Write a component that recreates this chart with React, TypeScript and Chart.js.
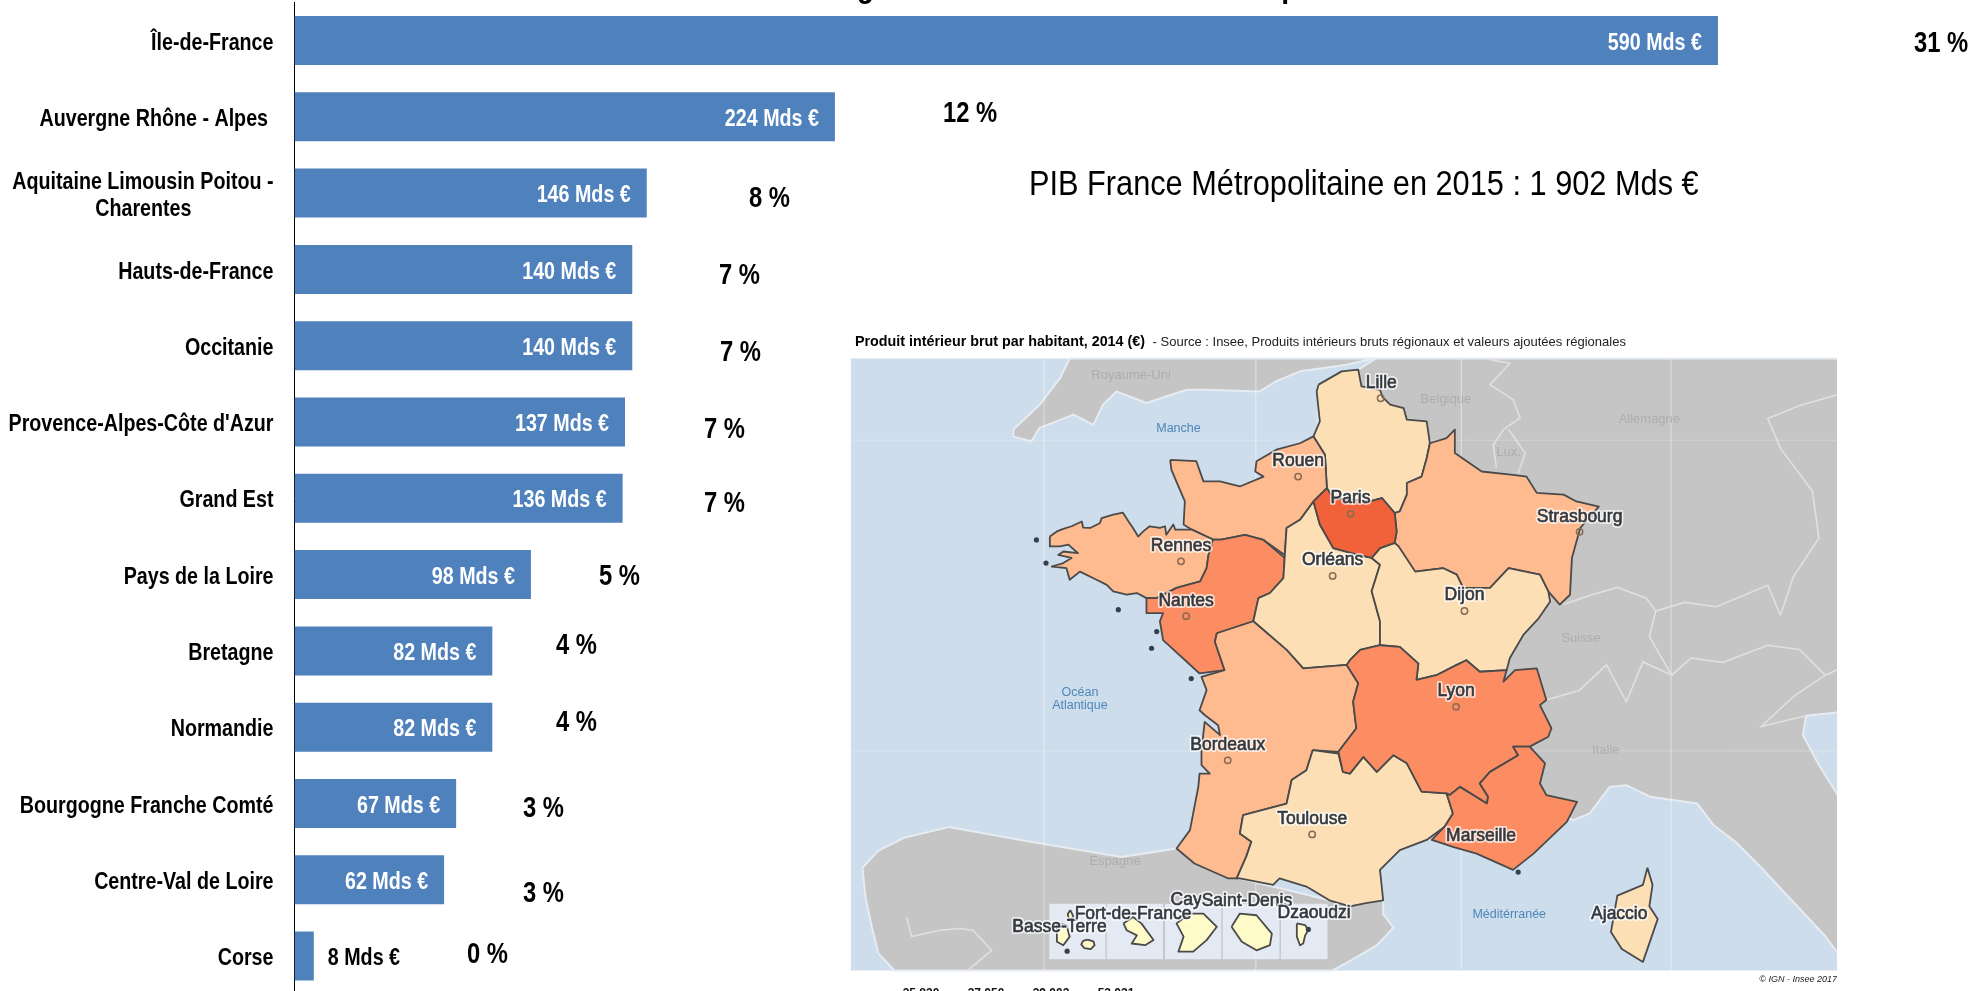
import React, { useEffect, useRef } from "react";
import { Chart, registerables } from "chart.js";

Chart.register(...registerables);

type Pt = [number, number];

/* ---------- bar chart data ---------- */
const regions: (string | string[])[] = [
  "Île-de-France",
  "Auvergne Rhône - Alpes ",
  ["Aquitaine Limousin Poitou -", "Charentes               "],
  "Hauts-de-France",
  "Occitanie",
  "Provence-Alpes-Côte d'Azur",
  "Grand Est",
  "Pays de la Loire",
  "Bretagne",
  "Normandie",
  "Bourgogne Franche Comté",
  "Centre-Val de Loire",
  "Corse",
];
const pibMds = [590, 224, 146, 140, 140, 137, 136, 98, 82, 82, 67, 62, 8];
const sharePct = [31, 12, 8, 7, 7, 7, 7, 5, 4, 4, 3, 3, 0];

const chartTitle = "Poids des régions dans le PIB France métropolitaine";
const pibNote = "PIB France Métropolitaine en 2015 : 1 902 Mds €";

/* hand-placed percentage labels: left edge and vertical centre on the page */
const shareLabelLeft = [1914, 943, 749, 719, 720, 704, 704, 599, 556, 556, 523, 523, 467];
const shareLabelMid = [44, 114, 199, 276, 353, 430, 504, 577, 646, 723, 809, 894, 955];

/* ---------- map data (map-chart units) ---------- */
const seaRect: Pt[] = [[17, 90], [1570, 90], [1570, 1520], [17, 1520], [17, 90]];
const ukLand: Pt[] = [[359, 90], [344, 136], [312, 198], [271, 256], [271, 272], [299, 284], [312, 252], [365, 221], [396, 245], [411, 198], [432, 167], [479, 194], [542, 163], [573, 163], [656, 167], [682, 143], [719, 120], [790, 105], [835, 90], [359, 90]];
const continentLand: Pt[] = [[838, 90], [1570, 90], [1570, 915], [1510, 925], [1505, 970], [1530, 1040], [1570, 1135], [1570, 1500], [1540, 1440], [1490, 1360], [1440, 1280], [1400, 1220], [1365, 1180], [1340, 1130], [1266, 1114], [1229, 1087], [1203, 1091], [1172, 1153], [1146, 1169], [900, 1000], [640, 1000], [700, 500], [745, 300], [748, 200], [745, 167], [810, 116], [838, 90]];
const iberiaLand: Pt[] = [[100, 1210], [60, 1240], [35, 1280], [40, 1350], [50, 1420], [60, 1480], [85, 1520], [770, 1520], [800, 1495], [840, 1460], [865, 1420], [850, 1390], [849, 1356], [820, 1363], [765, 1356], [625, 1305], [526, 1235], [440, 1255], [300, 1220], [170, 1185], [100, 1210]];

const borderBelgium: Pt[] = [[1016, 93], [1047, 101], [1016, 151], [1052, 186], [1063, 229], [1037, 256], [1021, 292], [1026, 346]];
const borderLux: Pt[] = [[1045, 256], [1071, 311], [1060, 358]];
const borderSwissNorth: Pt[] = [[1130, 665], [1180, 640], [1215, 625], [1260, 650], [1275, 680], [1320, 660], [1370, 670], [1450, 620], [1470, 690]];
const borderSwissSouth: Pt[] = [[1275, 680], [1265, 740], [1300, 830], [1330, 790], [1380, 800], [1450, 760], [1500, 770], [1540, 830], [1570, 810]];
const borderItaly: Pt[] = [[1104, 888], [1156, 865], [1198, 806], [1229, 892], [1255, 799], [1300, 830]];
const borderGermanyEast: Pt[] = [[1570, 170], [1500, 200], [1450, 230], [1470, 300], [1520, 400], [1530, 510], [1490, 600], [1470, 690]];
const borderSlovenia: Pt[] = [[1540, 830], [1490, 880], [1440, 950], [1510, 925]];
const borderPortugal: Pt[] = [[104, 1395], [112, 1441], [156, 1426], [188, 1422], [208, 1426], [237, 1473], [200, 1519]];

const graticuleH1: Pt[] = [[17, 281], [1570, 281]];
const graticuleH2: Pt[] = [[17, 1007], [1570, 1007]];
const graticuleV1: Pt[] = [[319, 90], [319, 1520]];
const graticuleV2: Pt[] = [[650, 90], [650, 1520]];
const graticuleV3: Pt[] = [[971, 90], [971, 1520]];
const graticuleV4: Pt[] = [[1299, 90], [1299, 1520]];

const hautsDeFrance: Pt[] = [[748, 151], [784, 120], [810, 116], [815, 155], [844, 163], [848, 180], [860, 198], [881, 206], [886, 233], [917, 237], [922, 288], [917, 323], [909, 366], [886, 381], [886, 408], [875, 447], [867, 451], [847, 416], [828, 424], [771, 416], [761, 393], [758, 315], [740, 272], [750, 237], [745, 167], [748, 151]];
const ileDeFrance: Pt[] = [[740, 424], [761, 393], [771, 416], [828, 424], [847, 416], [867, 451], [870, 494], [867, 521], [844, 533], [831, 556], [810, 549], [771, 533], [750, 478], [740, 424]];
const normandie: Pt[] = [[516, 327], [557, 330], [568, 377], [594, 377], [625, 389], [662, 366], [649, 354], [651, 330], [682, 303], [719, 288], [740, 272], [758, 315], [761, 393], [740, 424], [719, 467], [698, 486], [695, 549], [662, 514], [633, 502], [596, 513], [583, 513], [550, 490], [537, 478], [539, 424], [518, 350], [516, 327]];
const bretagne: Pt[] = [[328, 506], [339, 494], [349, 488], [362, 482], [378, 471], [380, 485], [391, 486], [406, 475], [409, 463], [427, 455], [442, 450], [451, 471], [458, 486], [466, 506], [474, 494], [484, 482], [500, 486], [508, 482], [510, 502], [521, 478], [524, 490], [550, 490], [583, 513], [576, 549], [573, 580], [563, 611], [526, 626], [495, 650], [479, 650], [464, 638], [448, 642], [427, 634], [417, 619], [401, 607], [375, 588], [359, 607], [354, 580], [331, 576], [349, 568], [362, 556], [341, 549], [349, 541], [372, 545], [357, 525], [344, 529], [328, 529], [328, 506]];
const paysDeLaLoire: Pt[] = [[583, 513], [596, 513], [633, 502], [662, 514], [695, 556], [693, 603], [672, 638], [654, 650], [646, 704], [589, 732], [586, 752], [601, 818], [562, 826], [505, 748], [500, 704], [505, 685], [479, 685], [479, 650], [495, 650], [526, 626], [563, 611], [573, 580], [576, 549], [583, 513]];
const centreVal: Pt[] = [[740, 424], [750, 478], [771, 533], [810, 549], [831, 556], [844, 572], [831, 634], [844, 704], [844, 760], [813, 771], [797, 795], [792, 806], [724, 814], [698, 771], [646, 704], [654, 650], [672, 638], [693, 603], [695, 556], [698, 486], [719, 467], [740, 424]];
const grandEst: Pt[] = [[922, 288], [948, 276], [961, 256], [961, 311], [1003, 354], [1052, 362], [1073, 366], [1089, 404], [1131, 408], [1151, 424], [1186, 436], [1157, 486], [1144, 556], [1141, 642], [1125, 665], [1107, 634], [1094, 595], [1045, 580], [1016, 626], [974, 626], [964, 595], [943, 580], [899, 588], [873, 529], [867, 521], [870, 494], [867, 451], [875, 447], [886, 408], [886, 381], [909, 366], [917, 323], [922, 288]];
const bourgogneFC: Pt[] = [[867, 521], [873, 529], [899, 588], [943, 580], [964, 595], [974, 626], [1016, 626], [1045, 580], [1094, 595], [1107, 634], [1110, 658], [1092, 697], [1068, 736], [1047, 790], [1042, 818], [1000, 822], [979, 795], [964, 806], [932, 830], [901, 841], [904, 803], [875, 764], [844, 760], [844, 704], [831, 634], [844, 572], [831, 556], [844, 533], [867, 521]];
const nouvelleAquitaine: Pt[] = [[589, 732], [646, 704], [698, 771], [724, 814], [792, 806], [810, 849], [802, 892], [807, 954], [779, 1009], [739, 1005], [729, 1052], [706, 1075], [698, 1130], [630, 1157], [625, 1200], [643, 1219], [635, 1254], [620, 1305], [607, 1305], [554, 1270], [526, 1235], [547, 1192], [560, 1091], [562, 1060], [578, 1060], [565, 1040], [565, 1005], [570, 939], [594, 970], [591, 947], [570, 923], [562, 912], [573, 865], [565, 834], [601, 818], [586, 752], [589, 732]];
const occitanie: Pt[] = [[739, 1005], [779, 1013], [786, 1056], [797, 1060], [818, 1021], [839, 1056], [865, 1017], [886, 1036], [909, 1102], [948, 1106], [958, 1153], [945, 1184], [917, 1215], [875, 1239], [844, 1285], [849, 1356], [820, 1363], [797, 1370], [765, 1356], [729, 1324], [687, 1305], [677, 1320], [625, 1305], [620, 1305], [635, 1254], [643, 1219], [625, 1200], [630, 1157], [698, 1130], [706, 1075], [729, 1052], [739, 1005]];
const auvergneRA: Pt[] = [[797, 795], [813, 771], [844, 760], [875, 764], [904, 803], [901, 841], [932, 830], [964, 806], [979, 795], [1000, 822], [1042, 818], [1037, 845], [1055, 818], [1089, 814], [1104, 888], [1094, 900], [1112, 954], [1107, 974], [1078, 997], [1052, 997], [1060, 1017], [1016, 1056], [1000, 1083], [1013, 1114], [1011, 1130], [969, 1091], [953, 1110], [948, 1106], [909, 1102], [886, 1036], [865, 1017], [839, 1056], [818, 1021], [797, 1060], [786, 1056], [779, 1009], [807, 954], [802, 892], [810, 849], [792, 806], [797, 795]];
const paca: Pt[] = [[1052, 997], [1078, 997], [1102, 1036], [1094, 1083], [1104, 1110], [1152, 1126], [1136, 1173], [1084, 1247], [1052, 1285], [995, 1247], [958, 1231], [925, 1215], [945, 1184], [958, 1153], [948, 1106], [953, 1110], [969, 1091], [1011, 1130], [1013, 1114], [1000, 1083], [1016, 1056], [1060, 1017], [1052, 997]];
const corse: Pt[] = [[1262, 1280], [1270, 1320], [1265, 1370], [1278, 1400], [1255, 1500], [1222, 1470], [1205, 1430], [1215, 1345], [1255, 1320], [1262, 1280]];

const domBox1: Pt[] = [[327, 1364], [415, 1364], [415, 1494], [327, 1494], [327, 1364]];
const domBox2: Pt[] = [[417, 1364], [505, 1364], [505, 1494], [417, 1494], [417, 1364]];
const domBox3: Pt[] = [[508, 1364], [596, 1364], [596, 1494], [508, 1494], [508, 1364]];
const domBox4: Pt[] = [[598, 1364], [687, 1364], [687, 1494], [598, 1494], [598, 1364]];
const domBox5: Pt[] = [[689, 1364], [762, 1364], [762, 1494], [689, 1494], [689, 1364]];

const guadeloupe: Pt[] = [[339, 1410], [354, 1414], [359, 1441], [349, 1461], [339, 1453], [339, 1410]];
const grandeTerre: Pt[] = [[360, 1379], [365, 1395], [358, 1402], [356, 1388], [360, 1379]];
const marieGalante: Pt[] = [[387, 1448], [396, 1452], [398, 1461], [392, 1470], [382, 1468], [377, 1459], [380, 1451], [387, 1448]];
const martinique: Pt[] = [[443, 1410], [458, 1395], [471, 1410], [490, 1449], [477, 1461], [456, 1457], [464, 1438], [448, 1426], [443, 1410]];
const guyane: Pt[] = [[547, 1387], [568, 1387], [589, 1418], [573, 1449], [552, 1476], [529, 1476], [537, 1441], [526, 1410], [547, 1387]];
const reunion: Pt[] = [[612, 1418], [625, 1387], [651, 1391], [675, 1434], [672, 1461], [651, 1473], [628, 1453], [612, 1418]];
const mayotte: Pt[] = [[714, 1410], [727, 1414], [732, 1426], [727, 1438], [724, 1457], [719, 1461], [714, 1441], [714, 1410]];

const coastIslets: Pt[] = [[307, 514], [322, 568], [435, 677], [495, 728], [487, 767], [549, 838], [355, 1475], [1060, 1290], [732, 1424]];
const cityPoints: Pt[] = [[845, 183], [716, 366], [798, 453], [1156, 495], [533, 564], [770, 598], [541, 692], [976, 680], [963, 904], [606, 1029], [738, 1202]];

const cityNames = ["Lille", "Rouen", "Paris", "Strasbourg", "Rennes", "Orléans", "Nantes", "Dijon", "Lyon", "Bordeaux", "Toulouse", "Marseille", "Ajaccio", "Basse-Terre", "Fort-de-France", "Cay", "Saint-Denis", "Dzaoudzi"];
const cityNameSpots: Pt[] = [[846, 147], [716, 329], [798, 417], [1156, 460], [533, 529], [770, 562], [541, 657], [976, 644], [963, 867], [606, 993], [738, 1166], [1002, 1206], [1218, 1389], [343, 1419], [458, 1389], [541, 1355], [636, 1358], [741, 1386]];
const countryNames = ["Royaume-Uni", "Belgique", "Allemagne", "Lux.", "Suisse", "Italie", "Espagne"];
const countrySpots: Pt[] = [[455, 130], [947, 185], [1265, 233], [1045, 310], [1158, 743], [1197, 1005], [430, 1266]];
const seaNames = ["Manche", "Océan", "Atlantique", "Méditérranée"];
const seaSpots: Pt[] = [[529, 254], [375, 871], [375, 901], [1046, 1390]];

const mapCaptionBold = "Produit intérieur brut par habitant, 2014 (€)";
const mapCaptionSource = " - Source : Insee, Produits intérieurs bruts régionaux et valeurs ajoutées régionales";
const mapCredit = "© IGN - Insee 2017";
const legendTicks = ["35 830", "37 050", "39 002", "53 021"];

/* ---------- styles ---------- */
const SANS = '"Liberation Sans", Arial, sans-serif';
const NARROW_X = 0.82; // Arial-Narrow look: no narrow face is installed, so text is condensed on the canvas
const BAR_BLUE = "#4F81BD";
const SEA = "#CDDDEC";
const LAND = "#C5C5C5";
const PALE = "#FDDFB5";
const MID = "#FDBB8F";
const STRONG = "#FC8D62";
const TOP = "#F1613A";
const ISLAND = "#FEFBC8";
const OUTLINE = "#4A4A4A";

const area = (pts: Pt[], fillColor: string, stroke = OUTLINE, width = 1.8) => ({
  data: pts.map(([x, y]) => ({ x, y })),
  showLine: true,
  fill: "shape",
  backgroundColor: fillColor,
  borderColor: stroke,
  borderWidth: width,
  borderJoinStyle: "round",
  pointRadius: 0,
  tension: 0,
});
const stroke = (pts: Pt[], color: string, width: number) => ({
  data: pts.map(([x, y]) => ({ x, y })),
  showLine: true,
  fill: false,
  borderColor: color,
  borderWidth: width,
  pointRadius: 0,
  tension: 0,
});

/* draws text squeezed horizontally about its anchor x */
const squeezed = (ctx: any, text: string, x: number, y: number, sx: number) => {
  ctx.save();
  ctx.translate(x, y);
  ctx.scale(sx, 1);
  ctx.fillText(text, 0, 0);
  ctx.restore();
};

const barOverlay = {
  id: "barOverlay",
  afterLayout(chart: any) {
    /* the axis keeps drawing its own tick labels, only condensed about their right edge */
    const s = chart.scales.y;
    if (s.__condensed) return;
    s.__condensed = true;
    const draw = s.drawLabels.bind(s);
    s._computeLabelArea = () => undefined;
    s.drawLabels = (a: any) => {
      const c = s.ctx;
      c.save();
      const ax = 273.5;
      c.translate(ax, 2.5);
      c.scale(NARROW_X, 1);
      c.translate(-ax, 0);
      draw(a);
      c.restore();
    };
  },
  afterDatasetsDraw(chart: any) {
    const ctx = chart.ctx;
    const bars = chart.getDatasetMeta(0).data;
    ctx.save();
    ctx.textBaseline = "middle";
    ctx.font = `bold 24px ${SANS}`;
    bars.forEach((bar: any, i: number) => {
      const label = `${pibMds[i]} Mds €`;
      if (bar.x - bar.base > 120) {
        ctx.fillStyle = "#FFFFFF";
        ctx.textAlign = "right";
        squeezed(ctx, label, bar.x - 16, bar.y + 2.5, NARROW_X);
      } else {
        ctx.fillStyle = "#000000";
        ctx.textAlign = "left";
        squeezed(ctx, label, bar.x + 14, bar.y + 2.5, NARROW_X);
      }
    });
    ctx.fillStyle = "#000000";
    ctx.textAlign = "left";
    ctx.font = `bold 29px ${SANS}`;
    sharePct.forEach((p, i) => squeezed(ctx, `${p} %`, shareLabelLeft[i], shareLabelMid[i], NARROW_X));
    ctx.font = `35px ${SANS}`;
    squeezed(ctx, pibNote, 1029, 185, 0.878);
    ctx.font = `bold 34px ${SANS}`;
    ctx.textBaseline = "alphabetic";
    squeezed(ctx, chartTitle, 688, -3, 0.835);
    ctx.restore();
  },
};

const mapOverlay = {
  id: "mapOverlay",
  afterDatasetsDraw(chart: any) {
    const ctx = chart.ctx;
    const sx = chart.scales.x;
    const sy = chart.scales.y;
    const put = (t: string, p: Pt) => ctx.fillText(t, sx.getPixelForValue(p[0]), sy.getPixelForValue(p[1]));
    ctx.save();
    ctx.textAlign = "center";
    ctx.textBaseline = "middle";
    ctx.font = `13px ${SANS}`;
    ctx.fillStyle = "#ADADAD";
    countryNames.forEach((n, i) => put(n, countrySpots[i]));
    ctx.font = `12.5px ${SANS}`;
    ctx.fillStyle = "#4F86B8";
    seaNames.forEach((n, i) => put(n, seaSpots[i]));
    ctx.font = `17.5px ${SANS}`;
    ctx.lineJoin = "round";
    cityNames.forEach((n, i) => {
      const p = cityNameSpots[i];
      const px = sx.getPixelForValue(p[0]);
      const py = sy.getPixelForValue(p[1]);
      ctx.strokeStyle = "rgba(255,255,255,0.7)";
      ctx.lineWidth = 4;
      ctx.strokeText(n, px, py);
      ctx.strokeStyle = "#33383F";
      ctx.lineWidth = 0.6;
      ctx.strokeText(n, px, py);
      ctx.fillStyle = "#33383F";
      ctx.fillText(n, px, py);
    });
    ctx.textAlign = "left";
    ctx.fillStyle = "#000000";
    ctx.font = `bold 14.3px ${SANS}`;
    ctx.fillText(mapCaptionBold, 15, 22);
    const w = ctx.measureText(mapCaptionBold).width;
    ctx.font = `13px ${SANS}`;
    ctx.fillStyle = "#222222";
    ctx.fillText(mapCaptionSource, 15 + w + 4, 22);
    ctx.font = `italic 9px ${SANS}`;
    ctx.textAlign = "right";
    ctx.fillText(mapCredit, 997, 659);
    ctx.font = `bold 12px ${SANS}`;
    ctx.textAlign = "center";
    ctx.textBaseline = "alphabetic";
    ctx.fillStyle = "#111111";
    legendTicks.forEach((t, i) => ctx.fillText(t, 81 + 65 * i, 677));
    ctx.restore();
  },
};

export default function App() {
  const barRef = useRef<HTMLCanvasElement>(null);
  const mapRef = useRef<HTMLCanvasElement>(null);

  useEffect(() => {
    const barChart = new Chart(barRef.current as HTMLCanvasElement, {
      type: "bar",
      data: {
        labels: regions,
        datasets: [
          {
            data: pibMds,
            backgroundColor: BAR_BLUE,
            borderWidth: 0,
            barPercentage: 0.642,
            categoryPercentage: 1,
          },
        ],
      },
      plugins: [barOverlay],
      options: {
        indexAxis: "y",
        animation: false,
        responsive: false,
        events: [],
        layout: { autoPadding: false, padding: { top: 2.35, bottom: 0.75, left: 0, right: 0 } },
        plugins: { legend: { display: false }, title: { display: false }, tooltip: { enabled: false } },
        scales: {
          x: { display: false, min: 0, max: 695.3, grid: { display: false } },
          y: {
            afterFit(scale: any) {
              scale.width = 294.5;
              scale.paddingTop = 0;
              scale.paddingBottom = 0;
              scale.paddingLeft = 0;
              scale.paddingRight = 0;
            },
            grid: { display: false, drawTicks: false },
            border: { display: true, color: "#000000", width: 1 },
            ticks: {
              autoSkip: false,
              padding: 21,
              color: "#000000",
              font: { family: SANS, size: 24, weight: "bold", lineHeight: 1.125 },
            },
          },
        },
      },
    } as any);

    /* listed bottom layer first; Chart.js paints the last dataset first */
    const layers: any[] = [
      area(seaRect, SEA, SEA, 0),
      area(ukLand, LAND, "#E6ECF2", 2),
      area(continentLand, LAND, "#E6ECF2", 2),
      area(iberiaLand, LAND, "#E6ECF2", 2),
      stroke(graticuleH1, "rgba(255,255,255,0.25)", 1),
      stroke(graticuleH2, "rgba(255,255,255,0.25)", 1),
      stroke(graticuleV1, "rgba(255,255,255,0.18)", 1),
      stroke(graticuleV2, "rgba(255,255,255,0.18)", 1),
      stroke(graticuleV3, "rgba(255,255,255,0.18)", 1),
      stroke(graticuleV4, "rgba(255,255,255,0.18)", 1),
      stroke(borderBelgium, "#E0E0E0", 1.6),
      stroke(borderLux, "#E0E0E0", 1.6),
      stroke(borderSwissNorth, "#E0E0E0", 1.6),
      stroke(borderSwissSouth, "#E0E0E0", 1.6),
      stroke(borderItaly, "#E0E0E0", 1.6),
      stroke(borderGermanyEast, "#E0E0E0", 1.6),
      stroke(borderSlovenia, "#E0E0E0", 1.6),
      stroke(borderPortugal, "#E0E0E0", 1.6),
      area(domBox1, "rgba(232,240,250,0.85)", "rgba(0,0,0,0)", 0),
      area(domBox2, "rgba(232,240,250,0.85)", "rgba(0,0,0,0)", 0),
      area(domBox3, "rgba(232,240,250,0.85)", "rgba(0,0,0,0)", 0),
      area(domBox4, "rgba(232,240,250,0.85)", "rgba(0,0,0,0)", 0),
      area(domBox5, "rgba(232,240,250,0.85)", "rgba(0,0,0,0)", 0),
      area(hautsDeFrance, PALE),
      area(normandie, MID),
      area(bretagne, MID),
      area(paysDeLaLoire, STRONG),
      area(centreVal, PALE),
      area(grandEst, MID),
      area(bourgogneFC, PALE),
      area(nouvelleAquitaine, MID),
      area(occitanie, PALE),
      area(auvergneRA, STRONG),
      area(paca, STRONG),
      area(ileDeFrance, TOP),
      area(corse, PALE),
      area(guadeloupe, ISLAND),
      area(grandeTerre, ISLAND),
      area(marieGalante, ISLAND),
      area(martinique, ISLAND),
      area(guyane, ISLAND),
      area(reunion, ISLAND),
      area(mayotte, ISLAND),
      {
        data: coastIslets.map(([x, y]) => ({ x, y })),
        showLine: false,
        pointRadius: 2.6,
        pointBackgroundColor: "#34404E",
        pointBorderWidth: 0,
      },
      {
        data: cityPoints.map(([x, y]) => ({ x, y })),
        showLine: false,
        pointRadius: 3.2,
        pointBackgroundColor: "rgba(0,0,0,0)",
        pointBorderColor: "#8B6A52",
        pointBorderWidth: 1.5,
      },
    ];

    const mapChart = new Chart(mapRef.current as HTMLCanvasElement, {
      type: "scatter",
      data: { datasets: layers.reverse() },
      plugins: [mapOverlay],
      options: {
        animation: false,
        responsive: false,
        events: [],
        layout: { autoPadding: false, padding: 0 },
        plugins: { legend: { display: false }, title: { display: false }, tooltip: { enabled: false } },
        scales: {
          x: { display: false, type: "linear", min: 0, max: 1558.3 },
          y: { display: false, type: "linear", min: 0, max: 1568, reverse: true },
        },
      },
    } as any);

    return () => {
      barChart.destroy();
      mapChart.destroy();
    };
  }, []);

  return (
    <div style={{ position: "fixed", left: 0, top: 0, width: 1972, height: 991, overflow: "hidden", background: "#FFFFFF" }}>
      <canvas ref={barRef} width={1972} height={995} style={{ position: "absolute", left: 0, top: 0, width: 1972, height: 995 }} />
      <canvas ref={mapRef} width={997} height={671} style={{ position: "absolute", left: 840, top: 320, width: 997, height: 671, filter: "blur(0.4px)" }} />
    </div>
  );
}
